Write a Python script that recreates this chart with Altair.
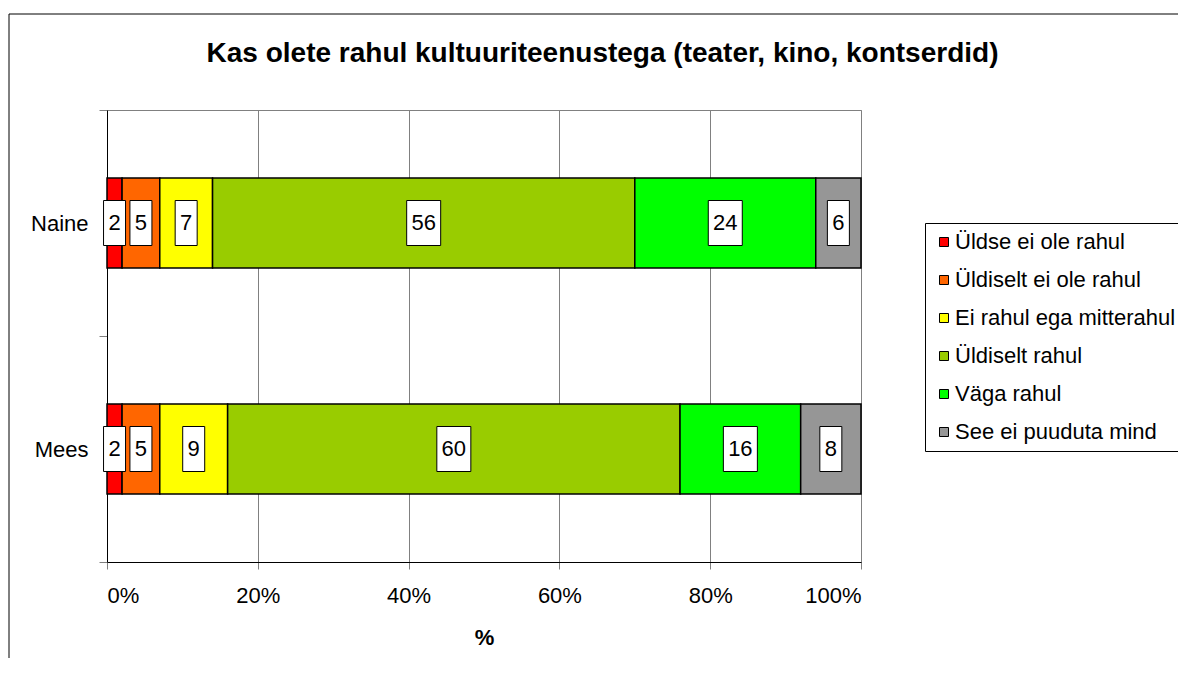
import altair as alt
import pandas as pd

title_text = "Kas olete rahul kultuuriteenustega (teater, kino, kontserdid)"
genders = ["Naine", "Mees"]
categories = [
    "Üldse ei ole rahul",
    "Üldiselt ei ole rahul",
    "Ei rahul ega mitterahul",
    "Üldiselt rahul",
    "Väga rahul",
    "See ei puuduta mind",
]
naine_values = [2, 5, 7, 56, 24, 6]
mees_values = [2, 5, 9, 60, 16, 8]
colors = ["#FF0000", "#FF6600", "#FFFF00", "#99CC00", "#00FF00", "#969696"]
x_ticks = [0, 20, 40, 60, 80, 100]

rows = []
for g, vals in zip(genders, [naine_values, mees_values]):
    for i, (c, v) in enumerate(zip(categories, vals)):
        rows.append({"gender": g, "category": c, "value": v, "idx": i})
df = pd.DataFrame(rows)

FONT = "Liberation Sans"
PLOT_W = 754
PLOT_H = 452

y_scale = alt.Scale(domain=genders, paddingInner=0, paddingOuter=0)
x_scale = alt.Scale(domain=[0, 100], nice=False)

x_axis = alt.Axis(
    values=x_ticks,
    labelExpr="datum.value + '%'",
    labelFontSize=22,
    labelColor="black",
    labelPadding=16,
    tickSize=7,
    tickColor="#808080",
    domainColor="black",
    grid=True,
    gridColor="#808080",
    title="%",
    titleFontSize=22,
    titleFontWeight="bold",
    titleColor="black",
    titlePadding=21,
)
y_axis = alt.Axis(
    title=None,
    labelFontSize=22,
    labelColor="black",
    labelPadding=11,
    tickSize=8,
    tickBand="extent",
    tickColor="#808080",
    domainColor="black",
    grid=False,
)

base = alt.Chart(df)

bars = base.mark_bar(height=90, stroke="black", strokeWidth=1.5).encode(
    x=alt.X("value:Q", stack="zero", scale=x_scale, axis=x_axis),
    y=alt.Y("gender:N", sort=genders, scale=y_scale, axis=y_axis),
    color=alt.Color(
        "category:N",
        sort=categories,
        scale=alt.Scale(domain=categories, range=colors),
        legend=alt.Legend(
            title=None,
            orient="none",
            legendX=818,
            legendY=113,
            strokeColor="black",
            fillColor="white",
            padding=8,
            symbolType="square",
            symbolSize=81,
            symbolStrokeColor="black",
            symbolStrokeWidth=1,
            labelFontSize=22,
            labelColor="black",
            labelOffset=0,
            rowPadding=16,
            labelLimit=400,
        ),
    ),
    order=alt.Order("idx:Q"),
)

label_base = base.transform_window(
    cum="sum(value)", groupby=["gender"], sort=[alt.SortField("idx")]
).transform_calculate(
    mid="datum.cum - datum.value / 2",
    hw="(datum.value >= 10 ? 17 : 11) * 100 / 754",
).transform_calculate(
    lo="datum.mid - datum.hw", hi="datum.mid + datum.hw"
)

boxes = label_base.mark_bar(
    height=45, fill="white", stroke="black", strokeWidth=1
).encode(
    x=alt.X("lo:Q", scale=x_scale),
    x2="hi:Q",
    y=alt.Y("gender:N", sort=genders, scale=y_scale),
)

texts = label_base.mark_text(fontSize=22, color="black", baseline="middle").encode(
    x=alt.X("mid:Q", scale=x_scale),
    y=alt.Y("gender:N", sort=genders, scale=y_scale),
    text="value:Q",
)

frame_data = alt.Data(values=[{"k": 1}])
frame_left = alt.Chart(frame_data).mark_rule(color="black", strokeWidth=1).encode(
    x=alt.value(-98), y=alt.value(-96), y2=alt.value(700)
)
frame_top = alt.Chart(frame_data).mark_rule(color="black", strokeWidth=1).encode(
    x=alt.value(-98), x2=alt.value(1200), y=alt.value(-96)
)

title_mark = alt.Chart(alt.Data(values=[{"t": title_text}])).mark_text(
    fontSize=28, fontWeight="bold", color="black", align="center", baseline="alphabetic"
).encode(x=alt.value(495.5), y=alt.value(-48), text="t:N")

chart = alt.layer(frame_left, frame_top, bars, boxes, texts, title_mark).properties(
    width=PLOT_W,
    height=PLOT_H,
    autosize=alt.AutoSizeParams(type="none"),
    padding={"left": 99, "top": 102, "right": 317, "bottom": 96},
).configure(font=FONT).configure_view(stroke="#808080", strokeWidth=1)

chart.save("out.html", embed_options={"renderer": "svg", "actions": False})
